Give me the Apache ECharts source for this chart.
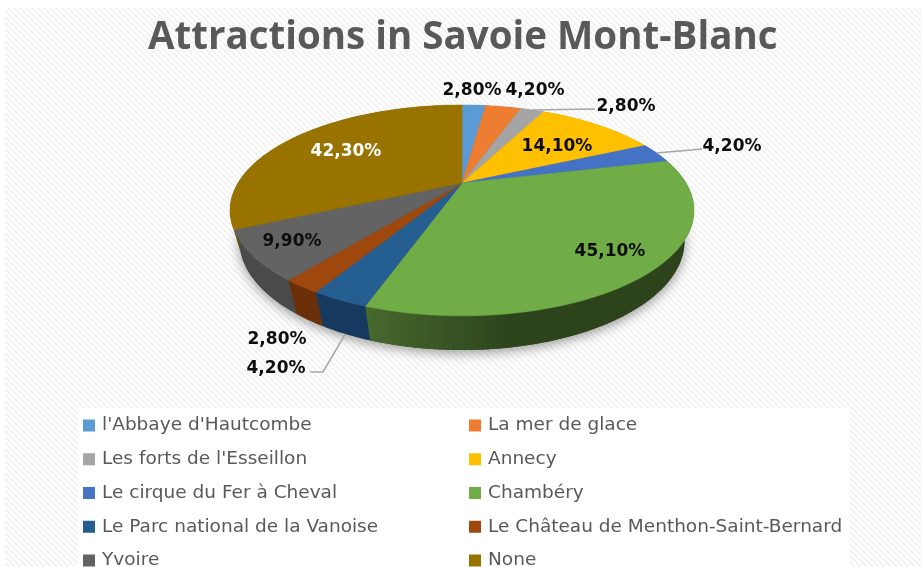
<!DOCTYPE html>
<html>
<head>
<meta charset="utf-8">
<style>
  html, body { margin: 0; padding: 0; background: #fff; }
  #chart { width: 921px; height: 567px; }
</style>
<script src="https://cdn.jsdelivr.net/npm/echarts@6/dist/echarts.min.js"></script>
</head>
<body>
<div id="chart"></div>
<script>
const categories = ["l'Abbaye d'Hautcombe", 'La mer de glace', "Les forts de l'Esseillon", 'Annecy',
  'Le cirque du Fer à Cheval', 'Chambéry', 'Le Parc national de la Vanoise',
  'Le Château de Menthon-Saint-Bernard', 'Yvoire', 'None'];
const values = [2.8, 4.2, 2.8, 14.1, 4.2, 45.1, 4.2, 2.8, 9.9, 42.3];
const colors = ['#5b9bd5', '#ed7d31', '#a5a5a5', '#ffc000', '#4472c4', '#70ad47', '#255e91', '#9e480e', '#636363', '#997300'];
const sideColors = ['#3a6a94', '#a05420', '#707070', '#ad8200', '#2d4d86', '#2c431b', '#163a5f', '#6b2f0a', '#4a4a4a', '#684e00'];
const labelColors = ['#0d0d0d', '#0d0d0d', '#0d0d0d', '#0d0d0d', '#0d0d0d', '#0d0d0d', '#0d0d0d', '#0d0d0d', '#0d0d0d', '#ffffff'];

// where Excel left each label, hand placed
const labelX = [472, 535, 626, 557, 732, 610, 276, 277, 292, 346];
const labelY = [89, 89, 105, 145, 145, 250, 367, 338, 240, 150];

const total = values.reduce((a, b) => a + b, 0);
const starts = [];
values.reduce((sum, v, i) => { starts[i] = sum; return sum + v; }, 0);

// perspective projection of the disc, fitted on the picture
const apexX = 462, apexY = 183;
const scaleX = 224, scaleY = 98.3, tilt = 0.26, depthY = 32, depthW = 0.04;

function topPoint(a) {
  const u = Math.sin(a), v = -Math.cos(a), w = 1 - tilt * v;
  return [apexX + scaleX * u / w, apexY + scaleY * v / w];
}
function bottomPoint(a) {
  const u = Math.sin(a), v = -Math.cos(a), w = 1 - tilt * v + depthW;
  return [apexX + scaleX * u / w, apexY + (scaleY * v + depthY) / w];
}
function angle(v) { return v / total * Math.PI * 2; }
function arc(fn, a0, a1) {
  const n = Math.max(2, Math.ceil((a1 - a0) / 0.02));
  const pts = [];
  for (let k = 0; k <= n; k++) pts.push(fn(a0 + (a1 - a0) * k / n));
  return pts;
}

function renderSide(params, api) {
  const i = params.dataIndex;
  const a0 = angle(starts[i]), a1 = a0 + angle(api.value(0));
  const children = [];
  if (i === 0) {
    children.push({
      type: 'polygon',
      z2: 0,
      shape: { points: arc(bottomPoint, 0, Math.PI * 2) },
      style: { fill: '#444', shadowBlur: 12, shadowColor: 'rgba(0,0,0,0.4)', shadowOffsetY: 3 }
    });
  }
  const fill = i === 5 ? {
    type: 'linear', x: 0, y: 0, x2: 1, y2: 0,
    colorStops: [{ offset: 0, color: '#46692d' }, { offset: 0.45, color: '#2c431b' }, { offset: 1, color: '#2c431b' }]
  } : sideColors[i];
  children.push({
    type: 'polygon',
    z2: 1,
    shape: { points: arc(topPoint, a0, a1).concat(arc(bottomPoint, a0, a1).reverse()) },
    style: { fill: fill }
  });
  return { type: 'group', children: children };
}

function renderTop(i) {
  return function (params, api) {
    const a0 = angle(starts[i]), a1 = a0 + angle(api.value(0));
    const children = [{
      type: 'polygon',
      z2: 2,
      shape: { points: [[apexX, apexY]].concat(arc(topPoint, a0, a1)) },
      style: { fill: colors[i], stroke: colors[i], lineWidth: 0.5 }
    }, {
      type: 'text',
      z2: 10,
      style: {
        x: labelX[i], y: labelY[i] + 2,
        text: api.value(0).toFixed(2).replace('.', ',') + '%',
        font: 'bold 17px "DejaVu Sans"',
        fill: labelColors[i], align: 'center', verticalAlign: 'middle'
      }
    }];
    const mid = (a0 + a1) / 2;
    let leader = null;
    if (i === 2) leader = [[labelX[i] - 31, labelY[i] + 4], topPoint(mid)];
    if (i === 4) leader = [[labelX[i] - 30, labelY[i] + 4], topPoint(mid)];
    if (i === 6) leader = [[labelX[i] + 34, labelY[i] + 5], [labelX[i] + 47, labelY[i] + 5], bottomPoint(mid)];
    if (leader) {
      children.push({
        type: 'polyline',
        z2: 9,
        shape: { points: leader },
        style: { fill: 'none', stroke: '#a6a6a6', lineWidth: 1.5 }
      });
    }
    return { type: 'group', children: children };
  };
}

const hatch = document.createElement('canvas');
hatch.width = 6;
hatch.height = 6;
const hctx = hatch.getContext('2d');
hctx.fillStyle = '#fff';
hctx.fillRect(0, 0, 6, 6);
hctx.strokeStyle = '#f3f3f3';
hctx.lineWidth = 2;
[[-3, -3, 9, 9], [-3, 3, 3, 9], [3, -3, 9, 3]].forEach(function (s) {
  hctx.beginPath();
  hctx.moveTo(s[0], s[1]);
  hctx.lineTo(s[2], s[3]);
  hctx.stroke();
});

const legendBase = {
  orient: 'vertical',
  top: 416,
  height: 200,
  padding: 0,
  itemWidth: 12,
  itemHeight: 12,
  itemGap: 14.75,
  icon: 'rect',
  selectedMode: false,
  textStyle: { color: '#595959', fontFamily: 'DejaVu Sans', fontSize: 18.5, padding: [0, 0, 0, 2] }
};

const chart = echarts.init(document.getElementById('chart'));
chart.setOption({
  animation: false,
  backgroundColor: '#fff',
  title: {
    text: 'Attractions in Savoie Mont-Blanc',
    left: 143,
    top: 14,
    textStyle: { color: '#595959', fontFamily: 'Open Sans', fontWeight: 'bold', fontSize: 38.5 }
  },
  graphic: [
    { type: 'rect', z: -2, shape: { x: 5, y: 8, width: 916, height: 559 }, style: { fill: { image: hatch, repeat: 'repeat' } } },
    { type: 'rect', z: -1, shape: { x: 78, y: 408, width: 772, height: 159 }, style: { fill: '#fff' } }
  ],
  legend: [
    Object.assign({}, legendBase, { left: 83, data: categories.filter((c, i) => i % 2 === 0) }),
    Object.assign({}, legendBase, { left: 469, data: categories.filter((c, i) => i % 2 === 1) })
  ],
  series: [{
    type: 'custom',
    name: 'sides',
    coordinateSystem: 'none',
    silent: true,
    z: 1,
    data: values.map(v => [v]),
    renderItem: renderSide
  }].concat(categories.map((name, i) => ({
    type: 'custom',
    name: name,
    coordinateSystem: 'none',
    silent: true,
    z: 2,
    itemStyle: { color: colors[i] },
    data: [[values[i]]],
    renderItem: renderTop(i)
  })))
});
</script>
</body>
</html>
